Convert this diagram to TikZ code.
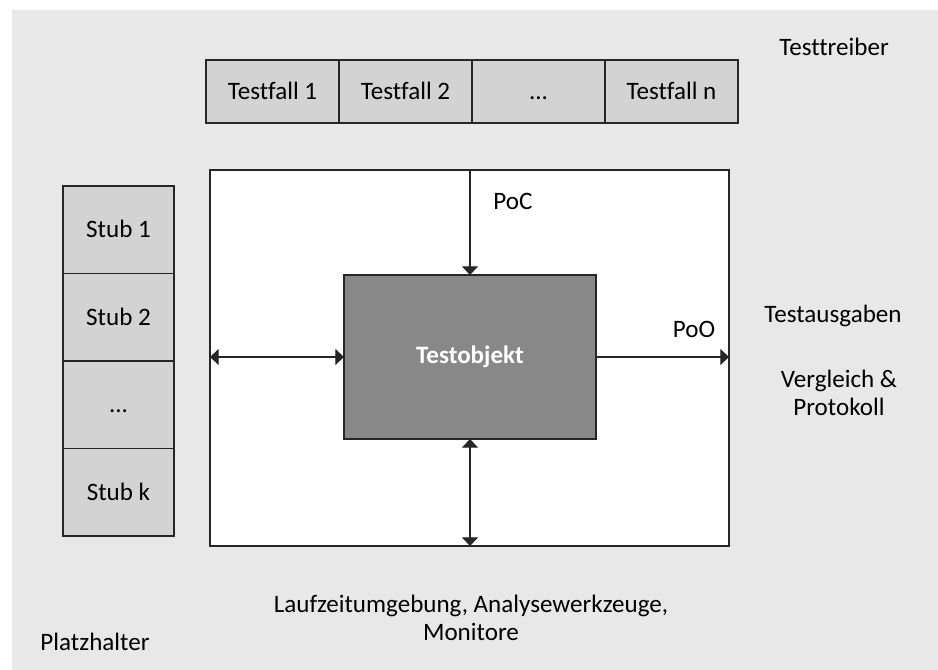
\documentclass[tikz,border=0pt]{standalone}
\usepackage{fontspec}
\setmainfont{Carlito}[Ligatures={NoCommon}]
\usetikzlibrary{arrows.meta}
\definecolor{bgc}{HTML}{E8E8E8}
\definecolor{cellc}{HTML}{D3D3D3}
\definecolor{objc}{HTML}{888888}
\definecolor{linec}{HTML}{262626}
\begin{document}
\begin{tikzpicture}[x=0.75pt,y=-0.75pt,
  lbl/.style={font=\fontsize{18.8}{21}\selectfont},
  txt/.style={lbl, text=black, inner sep=0pt},
  cell/.style={lbl, draw=linec, fill=cellc, line width=0.9pt, inner sep=0pt, outer sep=0pt,
    text height=12pt, text depth=0pt},
  tfcell/.style={cell, minimum width=99.75pt, minimum height=47.25pt},
  stubcell/.style={cell, minimum width=83.25pt, minimum height=65.625pt},
  conn/.style={draw=linec, line width=0.9pt},
  tip/.style={Triangle[width=12pt, length=6.5pt]}]
\useasboundingbox (0,0) rectangle (938,670);
\fill[bgc] (12,10) rectangle (938,670);

% test cases of the driver
\node[tfcell] (tf1) at (272.5,91.5) {Testfall 1};
\node[tfcell] (tf2) at (405.5,91.5) {Testfall 2};
\node[tfcell] (tf3) at (538.5,91.5) {...};
\node[tfcell] (tfn) at (671.5,91.5) {Testfall n};

% stubs
\node[stubcell] (s1) at (118.5,229.75) {Stub 1};
\node[stubcell] (s2) at (118.5,317.25) {Stub 2};
\node[stubcell] (s3) at (118.5,404.75) {...};
\node[stubcell] (sk) at (118.5,492.25) {Stub k};

% environment and test object
\node[draw=linec, fill=white, line width=0.9pt, inner sep=0pt, outer sep=0pt,
  minimum width=389.25pt, minimum height=282pt] (env) at (469.5,358) {};
\node[lbl, draw=linec, fill=objc, line width=0.9pt, inner sep=0pt, outer sep=0pt,
  minimum width=189pt, minimum height=123pt,
  font=\fontsize{18.8}{21}\selectfont\bfseries, text=white] (obj) at (470,357) {Testobjekt};

% connectors
\draw[conn, -{Triangle[width=12pt, length=6.5pt]}] (obj.north |- env.north) -- (obj.north);
\draw[conn, {Triangle[width=12pt, length=6.5pt]}-{Triangle[width=12pt, length=6.5pt]}] (env.west |- obj.west) -- (obj.west);
\draw[conn, -{Triangle[width=12pt, length=6.5pt]}] (obj.east) -- (env.east |- obj.east);
\draw[conn, {Triangle[width=12pt, length=6.5pt]}-{Triangle[width=12pt, length=6.5pt]}] (obj.south) -- (obj.south |- env.south);

% labels
\node[txt, anchor=base] (poc) at (513,210) {PoC};
\node[txt, anchor=base] (poo) at (694,337) {PoO};
\node[txt, anchor=base] (drv) at (834,56) {Testtreiber};
\node[txt, anchor=base] (out) at (833,322) {Testausgaben};
\node[txt, anchor=base, align=center] (cmp) at (839,415) {Vergleich \&\\Protokoll};
\node[txt, anchor=base, align=center] (rt) at (471,640) {Laufzeitumgebung, Analysewerkzeuge,\\Monitore};
\node[txt, anchor=base] (ph) at (95,650) {Platzhalter};
\end{tikzpicture}
\end{document}
